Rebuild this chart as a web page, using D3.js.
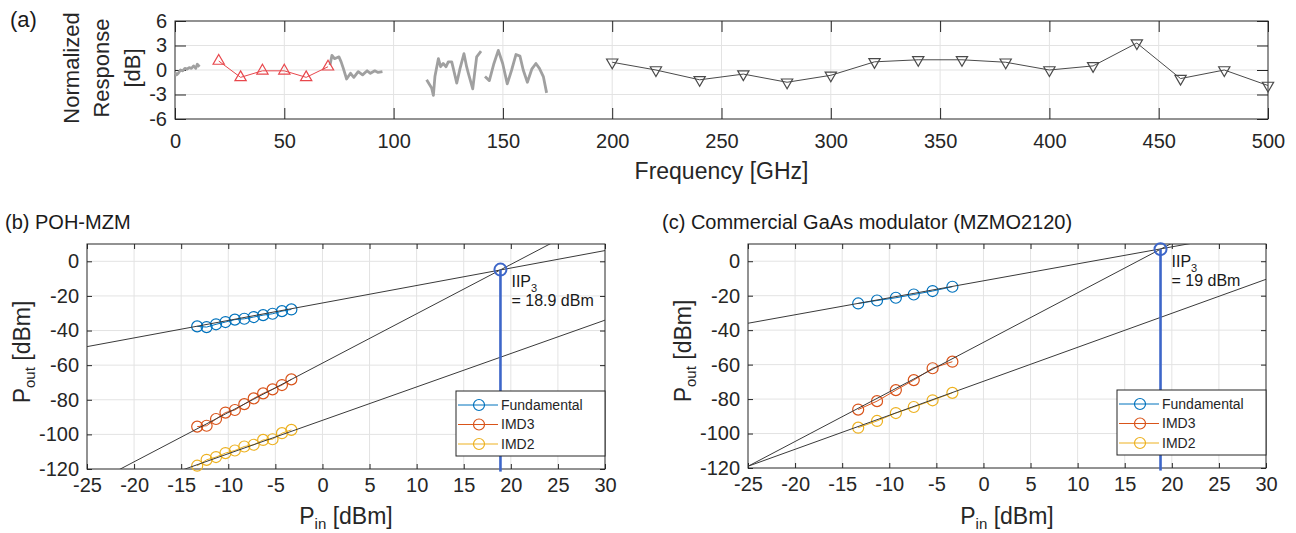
<!DOCTYPE html>
<html>
<head>
<meta charset="utf-8">
<script src="https://cdn.jsdelivr.net/npm/d3@7"></script>
<style>
  body { margin: 0; background: #fff; }
  svg { display: block; font-family: "Liberation Sans", Arial, sans-serif; }
</style>
</head>
<body>
<div id="chart"></div>
<script>
// ---- panel (a) data ----
const greyFreq = [0, 0.7, 1.5, 2.5, 3.5, 4.5, 5.5, 6.5, 7.5, 8.5, 9.5, 10.2, 11.2, null,
  70.9, 71.8, 73, 74, 75, 76, 77, 78.5, 80.3, 81.8, 83.8, 85.8, 87.9, 89.4, 91.4, 92.9, 94.9, null,
  115.1, 117.4, 118.2, 118.9, 120.5, 121.5, 122.7, 124, 125, 126.6, 128.9, 130.4, 132.2, 133.4, 134.2, 136.2, 138, 140, null,
  141.8, 143.8, 145.9, 147.9, 149.9, 152, 154, 156, 157.8, 159.3, 161.2, 163.2, 165.1, 166.7, 168.5, 170];
const greyDB = [-0.3, -0.6, -0.4, 0.0, -0.1, 0.2, 0.1, 0.3, 0.2, 0.5, 0.2, 0.7, 0.4, null,
  0.6, 1.8, 1.4, 1.5, 1.6, 1.0, 0.2, -1.1, -0.4, -0.9, -0.2, -0.6, -0.1, -0.4, -0.1, -0.3, -0.2, null,
  -1.2, -2.2, -3.1, -0.8, 1.4, 0.4, 0.8, 0.4, 1.0, 1.0, -1.6, 0.2, 2.0, 0.4, -0.4, -2.3, 1.6, 2.3, null,
  -0.8, -1.3, 0.8, 2.4, 0.8, -1.7, 0, 1.9, 1.7, 0, -1.5, 0.1, 0.8, 0.2, -0.8, -2.8];

const redFreq = [20, 30, 40, 50, 60, 70];
const redDB = [1.1, -0.9, -0.1, -0.1, -0.9, 0.4];

const thzFreq = [200, 220, 240, 260, 280, 300, 320, 340, 360, 380, 400, 420, 440, 460, 480, 500];
const thzDB = [0.95, 0, -1.2, -0.5, -1.5, -0.65, 1.0, 1.25, 1.25, 0.95, 0, 0.5, 3.3, -1.05, 0, -1.9];

const freqTicks = [0, 50, 100, 150, 200, 250, 300, 350, 400, 450, 500];
const respTicks = [-6, -3, 0, 3, 6];

// ---- panel (b) data: POH-MZM ----
const pinB = [-13.3, -12.3, -11.3, -10.3, -9.3, -8.3, -7.3, -6.3, -5.3, -4.3, -3.3];
const fundB = [-37.6, -38.0, -36.4, -35.1, -33.7, -33.2, -32.2, -31.1, -30.3, -28.8, -27.8];
const imd3B = [-95.5, -95.0, -91.1, -87.4, -85.9, -82.5, -79.2, -76.3, -74.0, -71.5, -68.2];
const imd2B = [-118.1, -114.7, -113.1, -110.8, -109.3, -107.0, -106.0, -103.2, -102.8, -99.3, -97.4];
const fitFundB = [[-25, -49.3], [30, 6.2]];
const fitImd3B = [[-25, -130.1], [30, 26.7]];
const fitImd2B = [[-25, -140.1], [30, -34.0]];
const iip3B = [18.9, -4.8];

// ---- panel (c) data: commercial GaAs ----
const pinC = [-13.3, -11.3, -9.3, -7.4, -5.4, -3.3];
const fundC = [-24.5, -22.8, -21.2, -19.3, -17.3, -14.8];
const imd3C = [-86.1, -81.2, -74.8, -69.0, -62.1, -58.3];
const imd2C = [-96.6, -92.7, -88.1, -84.6, -80.7, -76.4];
const fitFundC = [[-25, -36.0], [30, 18.2]];
const fitImd3C = [[-25, -119.0], [30, 39.2]];
const fitImd2C = [[-25, -119.0], [30, -10.5]];
const iip3C = [18.8, 7.0];

const pinTicks = [-25, -20, -15, -10, -5, 0, 5, 10, 15, 20, 25, 30];
const poutTicks = [-120, -100, -80, -60, -40, -20, 0];

const seriesNames = ["Fundamental", "IMD3", "IMD2"];
const seriesColors = ["#0072BD", "#D95319", "#EDB120"];

const axisColor = "#262626";
const gridColor = "#e3e3e3";

const svg = d3.select("#chart")
  .append("svg")
  .attr("width", 1296)
  .attr("height", 533);

// draws grid, box, inward ticks on all four sides
function drawFrame(g, x, y, xTicks, yTicks, tickLen, padX, padY, id) {
  const [x0, x1] = x.range();
  const [y0, y1] = y.range();

  g.append("g")
    .selectAll("line")
    .data(xTicks.filter(d => x(d) > x0 + 1 && x(d) < x1 - 1))
    .join("line")
    .attr("x1", d => x(d)).attr("x2", d => x(d))
    .attr("y1", y0).attr("y2", y1)
    .attr("stroke", gridColor);

  g.append("g")
    .selectAll("line")
    .data(yTicks.filter(d => y(d) < y0 - 1 && y(d) > y1 + 1))
    .join("line")
    .attr("y1", d => y(d)).attr("y2", d => y(d))
    .attr("x1", x0).attr("x2", x1)
    .attr("stroke", gridColor);

  const fmt = d => String(d);

  const bottom = g.append("g")
    .attr("transform", `translate(0,${y0})`)
    .call(d3.axisBottom(x).tickValues(xTicks).tickFormat(fmt)
      .tickSizeInner(-tickLen).tickSizeOuter(0).tickPadding(padX));
  const left = g.append("g")
    .attr("transform", `translate(${x0},0)`)
    .call(d3.axisLeft(y).tickValues(yTicks).tickFormat(fmt)
      .tickSizeInner(-tickLen).tickSizeOuter(0).tickPadding(padY));
  const top = g.append("g")
    .attr("transform", `translate(0,${y1})`)
    .call(d3.axisTop(x).tickValues(xTicks).tickFormat("")
      .tickSizeInner(-tickLen).tickSizeOuter(0));
  const right = g.append("g")
    .attr("transform", `translate(${x1},0)`)
    .call(d3.axisRight(y).tickValues(yTicks).tickFormat("")
      .tickSizeInner(-tickLen).tickSizeOuter(0));

  [bottom, left, top, right].forEach(a => {
    a.select(".domain").remove();
    a.selectAll("line").attr("stroke", axisColor);
    a.selectAll("text")
      .attr("fill", axisColor)
      .style("font-size", "20px")
      .style("font-family", "'Liberation Sans', Arial, sans-serif");
  });

  g.append("rect")
    .attr("x", x0).attr("y", y1)
    .attr("width", x1 - x0).attr("height", y0 - y1)
    .attr("fill", "none")
    .attr("stroke", axisColor);

  g.append("clipPath")
    .attr("id", id)
    .append("rect")
    .attr("x", x0).attr("y", y1)
    .attr("width", x1 - x0).attr("height", y0 - y1);
}

// ================= panel (a) =================
const xA = d3.scaleLinear().domain([0, 500]).range([175, 1268]);
const yA = d3.scaleLinear().domain([-6, 6]).range([119, 21]);
const gA = svg.append("g");
drawFrame(gA, xA, yA, freqTicks, respTicks, 11, 15, 8, "clipA");

const greyData = greyFreq.map((f, i) => [f, greyDB[i]]);
gA.append("path")
  .datum(greyData)
  .attr("fill", "none")
  .attr("stroke", "#a0a0a0")
  .attr("stroke-width", 2.8)
  .attr("stroke-linejoin", "round")
  .attr("d", d3.line()
    .defined(d => d[0] != null && d[1] != null)
    .x(d => xA(d[0])).y(d => yA(d[1])));

const redData = redFreq.map((f, i) => [f, redDB[i]]);
gA.append("path")
  .datum(redData)
  .attr("fill", "none")
  .attr("stroke", "#e8474c")
  .attr("stroke-width", 1)
  .attr("d", d3.line().x(d => xA(d[0])).y(d => yA(d[1])));

const triUp = d3.symbol().type(d3.symbolTriangle).size(55);
gA.append("g")
  .selectAll("path")
  .data(redData)
  .join("path")
  .attr("transform", d => `translate(${xA(d[0])},${yA(d[1])})`)
  .attr("d", triUp())
  .attr("fill", "none")
  .attr("stroke", "#e8474c")
  .attr("stroke-width", 1.2);

const thzData = thzFreq.map((f, i) => [f, thzDB[i]]);
gA.append("path")
  .datum(thzData)
  .attr("fill", "none")
  .attr("stroke", "#4a4a4a")
  .attr("stroke-width", 1)
  .attr("d", d3.line().x(d => xA(d[0])).y(d => yA(d[1])));

gA.append("g")
  .selectAll("path")
  .data(thzData)
  .join("path")
  .attr("transform", d => `translate(${xA(d[0])},${yA(d[1])}) rotate(180)`)
  .attr("d", triUp())
  .attr("fill", "none")
  .attr("stroke", "#4a4a4a")
  .attr("stroke-width", 1.2);

// labels
gA.append("text")
  .attr("x", 10).attr("y", 27)
  .style("font-size", "22px")
  .attr("fill", "#1a1a1a")
  .text("(a)");

["Normalized", "Response", "[dB]"].forEach((t, i) => {
  gA.append("text")
    .attr("transform", `translate(${[79, 109, 140][i]},68) rotate(-90)`)
    .attr("text-anchor", "middle")
    .style("font-size", "22px")
    .attr("fill", axisColor)
    .text(t);
});

gA.append("text")
  .attr("x", (xA.range()[0] + xA.range()[1]) / 2)
  .attr("y", 179)
  .attr("text-anchor", "middle")
  .style("font-size", "23px")
  .attr("fill", axisColor)
  .text("Frequency [GHz]");

// ================= panels (b) and (c) =================
function drawIMD(cfg) {
  const x = d3.scaleLinear().domain([-25, 30]).range(cfg.xRange);
  const y = d3.scaleLinear().domain([-120, 10]).range(cfg.yRange);
  const g = svg.append("g");
  drawFrame(g, x, y, pinTicks, poutTicks, 5, 9, 8, cfg.clipId);

  const line = d3.line().x(d => x(d[0])).y(d => y(d[1]));
  const series = [cfg.fund, cfg.imd3, cfg.imd2];

  // measured points
  series.forEach((vals, s) => {
    const pts = cfg.pin.map((p, i) => [p, vals[i]]);
    g.append("path")
      .datum(pts)
      .attr("fill", "none")
      .attr("stroke", seriesColors[s])
      .attr("stroke-width", 1)
      .attr("d", line);
    g.append("g")
      .selectAll("circle")
      .data(pts)
      .join("circle")
      .attr("cx", d => x(d[0]))
      .attr("cy", d => y(d[1]))
      .attr("r", 5.5)
      .attr("fill", "none")
      .attr("stroke", seriesColors[s])
      .attr("stroke-width", 1.2);
  });

  // linear fits
  const fits = g.append("g").attr("clip-path", `url(#${cfg.clipId})`);
  cfg.fits.forEach(f => {
    fits.append("path")
      .datum(f)
      .attr("fill", "none")
      .attr("stroke", "#3a3a3a")
      .attr("stroke-width", 1)
      .attr("d", line);
  });

  // IIP3 marker and drop line
  g.append("line")
    .attr("x1", x(cfg.iip3[0])).attr("x2", x(cfg.iip3[0]))
    .attr("y1", y(cfg.iip3[1])).attr("y2", y(-121.5))
    .attr("stroke", "#3d66c9")
    .attr("stroke-width", 2.6);
  g.append("circle")
    .attr("cx", x(cfg.iip3[0]))
    .attr("cy", y(cfg.iip3[1]))
    .attr("r", 6)
    .attr("fill", "none")
    .attr("stroke", "#3d66c9")
    .attr("stroke-width", 2);

  const ann = g.append("text")
    .attr("x", x(cfg.iip3[0]) + 11)
    .attr("y", cfg.annY)
    .style("font-size", "16px")
    .attr("fill", "#1a1a1a");
  ann.append("tspan").text("IIP");
  ann.append("tspan").attr("dy", 5).style("font-size", "11px").text("3");
  g.append("text")
    .attr("x", x(cfg.iip3[0]) + 11)
    .attr("y", cfg.annY + 19)
    .style("font-size", "16px")
    .attr("fill", "#1a1a1a")
    .text(cfg.annText);

  // legend
  const lx = x.range()[1] - 149;
  const ly = y.range()[0] - 13 - 65;
  const leg = g.append("g").attr("transform", `translate(${lx},${ly})`);
  leg.append("rect")
    .attr("width", 149).attr("height", 65)
    .attr("fill", "#fff")
    .attr("stroke", axisColor)
    .attr("stroke-width", 1);
  seriesNames.forEach((name, i) => {
    const yy = 14 + i * 19.5;
    leg.append("line")
      .attr("x1", 2).attr("x2", 42)
      .attr("y1", yy).attr("y2", yy)
      .attr("stroke", seriesColors[i]);
    leg.append("circle")
      .attr("cx", 23).attr("cy", yy).attr("r", 5.5)
      .attr("fill", "none")
      .attr("stroke", seriesColors[i])
      .attr("stroke-width", 1.2);
    leg.append("text")
      .attr("x", 45).attr("y", yy)
      .attr("dy", "0.35em")
      .style("font-size", "14px")
      .attr("fill", axisColor)
      .text(name);
  });

  // titles and axis labels
  g.append("text")
    .attr("x", cfg.titleX).attr("y", 229)
    .style("font-size", "20px")
    .attr("fill", "#1a1a1a")
    .text(cfg.title);

  const xl = g.append("text")
    .attr("x", (x.range()[0] + x.range()[1]) / 2)
    .attr("y", 524)
    .attr("text-anchor", "middle")
    .style("font-size", "23px")
    .attr("fill", axisColor);
  xl.append("tspan").text("P");
  xl.append("tspan").attr("dy", 5).style("font-size", "15px").text("in");
  xl.append("tspan").attr("dy", -5).text(" [dBm]");

  const yl = g.append("text")
    .attr("transform", `translate(${cfg.yLabelX},${cfg.yLabelY}) rotate(-90)`)
    .attr("text-anchor", "middle")
    .style("font-size", "23px")
    .attr("fill", axisColor);
  yl.append("tspan").text("P");
  yl.append("tspan").attr("dy", 5).style("font-size", "15px").text("out");
  yl.append("tspan").attr("dy", -5).text(" [dBm]");
}

drawIMD({
  xRange: [87, 605], yRange: [469, 244], clipId: "clipB",
  pin: pinB, fund: fundB, imd3: imd3B, imd2: imd2B,
  fits: [fitFundB, fitImd3B, fitImd2B],
  iip3: iip3B, annY: 287, annText: "= 18.9 dBm",
  title: "(b) POH-MZM", titleX: 5,
  yLabelX: 30, yLabelY: 352
});

drawIMD({
  xRange: [748, 1266], yRange: [468, 244], clipId: "clipC",
  pin: pinC, fund: fundC, imd3: imd3C, imd2: imd2C,
  fits: [fitFundC, fitImd3C, fitImd2C],
  iip3: iip3C, annY: 267, annText: "= 19 dBm",
  title: "(c) Commercial GaAs modulator (MZMO2120)", titleX: 662,
  yLabelX: 691, yLabelY: 351
});
</script>
</body>
</html>
